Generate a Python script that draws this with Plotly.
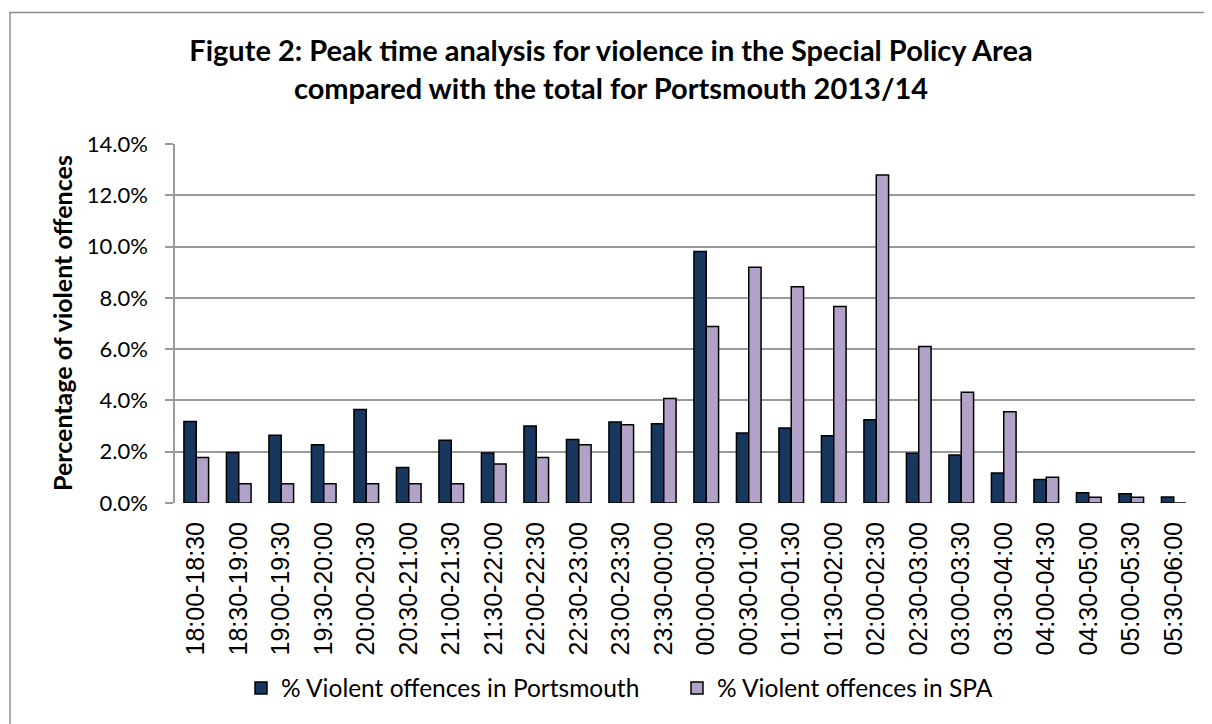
import plotly.graph_objects as go

categories = ["18:00-18:30", "18:30-19:00", "19:00-19:30", "19:30-20:00", "20:00-20:30",
              "20:30-21:00", "21:00-21:30", "21:30-22:00", "22:00-22:30", "22:30-23:00",
              "23:00-23:30", "23:30-00:00", "00:00-00:30", "00:30-01:00", "01:00-01:30",
              "01:30-02:00", "02:00-02:30", "02:30-03:00", "03:00-03:30", "03:30-04:00",
              "04:00-04:30", "04:30-05:00", "05:00-05:30", "05:30-06:00"]
portsmouth_pct = [3.18, 1.97, 2.64, 2.27, 3.65, 1.38, 2.45, 1.95, 3.00, 2.48, 3.16, 3.09,
                  9.81, 2.73, 2.92, 2.62, 3.25, 1.94, 1.87, 1.17, 0.92, 0.40, 0.36, 0.23]
spa_pct = [1.77, 0.75, 0.75, 0.75, 0.75, 0.75, 0.75, 1.52, 1.77, 2.27, 3.05, 4.08,
           6.88, 9.19, 8.43, 7.66, 12.79, 6.10, 4.32, 3.56, 1.00, 0.22, 0.22, 0.0]
series_names = ["% Violent offences in Portsmouth", "% Violent offences in SPA"]
y_tick_values = [0, 0.02, 0.04, 0.06, 0.08, 0.10, 0.12, 0.14]

# page body margin offset (8px) compensation
OFF = 8
W, H = 1212 - OFF, 724 - OFF
L, R = 175 - OFF, W - (1195 - OFF)
T, B = 144 - OFF, H - (503 - OFF)
pw, ph = W - L - R, H - T - B

def px_x(x):  # reference pixel -> paper
    return (x - OFF - L) / pw

def px_y(y):
    return (H - B - (y - OFF)) / ph

fig = go.Figure()
fig.add_trace(go.Bar(
    x=categories, y=[v / 100 for v in portsmouth_pct], name=series_names[0],
    marker=dict(color="#17375E", line=dict(color="#000000", width=1.5)),
))
fig.add_trace(go.Bar(
    x=categories, y=[v / 100 for v in spa_pct], name=series_names[1],
    marker=dict(color="#B3A2C7", line=dict(color="#000000", width=1.5)),
))

fig.update_layout(
    width=W, height=H,
    margin=dict(l=L, r=R, t=T, b=B, autoexpand=False),
    paper_bgcolor="white", plot_bgcolor="white",
    barmode="group", bargap=0.42, bargroupgap=0,
    title=dict(
        text="Figute 2: Peak time analysis for violence in the Special Policy Area<br>compared with the total for Portsmouth 2013/14",
        x=(611 - OFF) / W, xref="container", xanchor="center",
        y=1 - (61 - OFF) / H, yref="container", yanchor="middle",
        font=dict(family="Lato", size=29, color="#000000", weight="bold"),
    ),
    font=dict(family="Lato", color="#000000"),
    showlegend=True,
    legend=dict(
        orientation="h", x=px_x(241), xanchor="left", y=px_y(688), yanchor="middle",
        font=dict(family="Lato", size=24.5, color="#000000"),
        bgcolor="rgba(0,0,0,0)", traceorder="normal",
        entrywidth=391, entrywidthmode="pixels",
    ),
    xaxis=dict(
        type="category", tickangle=-90, showgrid=False, zeroline=False, showline=False,
        ticks="", tickfont=dict(family="Liberation Sans", size=25, color="#000000"),
        ticklabelstandoff=13, automargin=False,
    ),
    yaxis=dict(
        range=[0, 0.14], tickvals=y_tick_values, tickformat=".1%",
        showgrid=True, gridcolor="#9A9A9A", gridwidth=1.5,
        zeroline=False, showline=True, linecolor="#9A9A9A", linewidth=1.5,
        ticks="outside", ticklen=8, tickcolor="#9A9A9A", tickwidth=1.5,
        tickfont=dict(family="Lato", size=22, color="#000000"),
        ticklabelstandoff=13, automargin=False,
    ),
    annotations=[dict(
        text="Percentage of violent offences", textangle=-90,
        xref="paper", yref="paper", x=px_x(62), y=px_y(323),
        xanchor="center", yanchor="middle", showarrow=False,
        font=dict(family="Lato", size=25, color="#000000", weight="bold"),
    )],
    shapes=[dict(
        type="rect", xref="paper", yref="paper",
        x0=px_x(10), x1=px_x(1240), y0=px_y(760), y1=px_y(12.5),
        line=dict(color="#8C8C8C", width=1.5), fillcolor="rgba(0,0,0,0)", layer="below",
    )],
)

fig.write_html("out.html")
